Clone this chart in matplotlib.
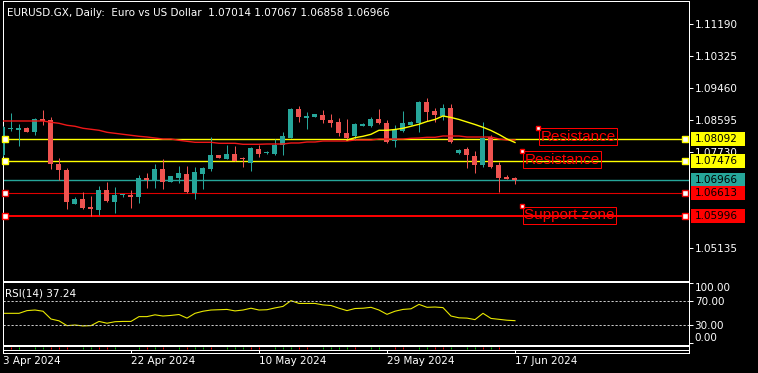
import numpy as np
import pandas as pd
import matplotlib
matplotlib.use("Agg")
import matplotlib.pyplot as plt
from matplotlib.patches import Rectangle

# EURUSD.GX diario, valores
opens = [1.07649, 1.08352, 1.08325, 1.08387, 1.08271, 1.08622, 1.08595, 1.07406, 1.07243, 1.06332,
         1.06460, 1.06243, 1.06162, 1.06703, 1.06378, 1.06554, 1.06568, 1.06514, 1.07027, 1.06973,
         1.07270, 1.06919, 1.07027, 1.07135, 1.06622, 1.07135, 1.07270, 1.07649, 1.07541, 1.07676,
         1.07568, 1.07433, 1.07811, 1.07703, 1.07676, 1.07919, 1.08108, 1.08892, 1.08657, 1.08676,
         1.08730, 1.08595, 1.08541, 1.08244, 1.08162, 1.08433, 1.08433, 1.08622, 1.08514, 1.08027,
         1.08298, 1.08460, 1.08514, 1.09082, 1.08838, 1.08703, 1.08919, 1.07703, 1.07811, 1.07622,
         1.07379, 1.08136, 1.07379, 1.07054, 1.07014]
highs = [1.08430, 1.08792, 1.08487, 1.08400, 1.08649, 1.08865, 1.08676, 1.07568, 1.07297, 1.06522,
         1.06649, 1.06541, 1.06811, 1.06919, 1.06784, 1.06603, 1.06703, 1.07108, 1.07162, 1.07406,
         1.07541, 1.07081, 1.07352, 1.07352, 1.07325, 1.07325, 1.08136, 1.07649, 1.07919, 1.07892,
         1.07595, 1.07865, 1.07919, 1.07757, 1.08081, 1.08271, 1.08919, 1.08973, 1.08811, 1.08770,
         1.08865, 1.08757, 1.08649, 1.08622, 1.08514, 1.08514, 1.08676, 1.08892, 1.08595, 1.08460,
         1.08838, 1.08568, 1.09109, 1.09190, 1.08919, 1.09027, 1.09027, 1.07811, 1.07865, 1.07757,
         1.08541, 1.08190, 1.07460, 1.07108, 1.07067]
lows = [1.07630, 1.08298, 1.07900, 1.08260, 1.08190, 1.08460, 1.07271, 1.06973, 1.06189, 1.06324,
        1.06189, 1.06000, 1.06027, 1.06378, 1.06081, 1.06514, 1.06216, 1.06351, 1.06757, 1.06757,
        1.06730, 1.06919, 1.06892, 1.06622, 1.06460, 1.06730, 1.07216, 1.07568, 1.07541, 1.07487,
        1.07325, 1.07216, 1.07595, 1.07684, 1.07649, 1.07649, 1.08108, 1.08541, 1.08352, 1.08676,
        1.08514, 1.08406, 1.08162, 1.08054, 1.08054, 1.08433, 1.08406, 1.08487, 1.07973, 1.07865,
        1.08271, 1.08460, 1.08271, 1.08568, 1.08541, 1.08595, 1.07973, 1.07676, 1.07297, 1.07162,
        1.07325, 1.07297, 1.06649, 1.07000, 1.06858]
closes = [1.08414, 1.08387, 1.08379, 1.08271, 1.08622, 1.08568, 1.07406, 1.07243, 1.06387, 1.06468,
          1.06216, 1.06189, 1.06703, 1.06405, 1.06568, 1.06562, 1.06514, 1.07027, 1.06973, 1.07270,
          1.06919, 1.07081, 1.07162, 1.06649, 1.07189, 1.07298, 1.07649, 1.07568, 1.07676, 1.07487,
          1.07541, 1.07838, 1.07676, 1.07730, 1.07919, 1.08162, 1.08892, 1.08676, 1.08711, 1.08757,
          1.08595, 1.08514, 1.08244, 1.08108, 1.08487, 1.08487, 1.08622, 1.08514, 1.08000, 1.08325,
          1.08514, 1.08541, 1.09082, 1.08811, 1.08730, 1.08919, 1.08000, 1.07784, 1.07649, 1.07379,
          1.08108, 1.07325, 1.07027, 1.07000, 1.06966]

# media lenta (roja) y rápida (amarilla, desde la vela 43)
ma_slow = [1.08568, 1.08568, 1.08568, 1.08568, 1.08568, 1.08568, 1.08533, 1.08506, 1.08452, 1.08425,
           1.08371, 1.08344, 1.08317, 1.08262, 1.08235, 1.08208, 1.08181, 1.08154, 1.08135, 1.08108,
           1.08081, 1.08081, 1.08046, 1.08019, 1.07992, 1.07992, 1.07992, 1.07965, 1.07965, 1.07965,
           1.07938, 1.07938, 1.07938, 1.07946, 1.07946, 1.07946, 1.07973, 1.07973, 1.08000, 1.08000,
           1.08027, 1.08027, 1.08027, 1.08027, 1.08054, 1.08054, 1.08054, 1.08081, 1.08081, 1.08081,
           1.08081, 1.08100, 1.08108, 1.08127, 1.08127, 1.08162, 1.08162, 1.08162, 1.08135, 1.08135,
           1.08135, 1.08135, 1.08081, 1.08054, 1.08054]
ma_fast_start = 43
ma_fast = [1.08054, 1.08117, 1.08154, 1.08208, 1.08317, 1.08317, 1.08338, 1.08371, 1.08425, 1.08479,
           1.08554, 1.08609, 1.08703, 1.08663, 1.08609, 1.08541, 1.08473, 1.08398, 1.08311, 1.08203,
           1.08081, 1.07987]

rsi = [49.5, 49.5, 49.5, 54, 55, 53, 40, 37, 29, 30,
       28.5, 29, 36, 33, 35.5, 36, 36, 44, 44, 47,
       45, 46, 47.5, 41.5, 49.5, 53, 55, 55.5, 56, 53.5,
       55, 58, 55, 55.5, 58.5, 61, 70.6, 66, 66, 66,
       63.5, 62.5, 58, 54, 57.5, 58, 59.5, 55, 47.8, 53,
       56, 57, 64.4, 59.5, 60, 59, 45, 42, 41.5, 39,
       49.5, 41, 39.5, 38, 37.24]

# marcas de la franja inferior
strip_idx = [1, 2, 4, 5, 6, 7, 8, 10, 11, 12, 13, 14, 17, 18, 19, 20, 22, 23, 24, 25, 26, 28, 29, 30,
             31, 32, 34, 35, 36, 37, 38, 40, 41, 42, 43, 44, 46, 47, 49, 50, 52, 53, 54, 55, 56, 58,
             59, 60, 61, 62]
strip_col = "rgggrrrggrrgg" + "rgrgrggrgggrr" + "gggrrggggrggrrggrrgggrg"

# niveles horizontales
levels = [1.08092, 1.07476, 1.06613, 1.05996]
level_colors = ["#ffff00", "#ffff00", "#e00000", "#ff0000"]
level_lw = [1.0, 1.0, 0.8, 1.4]
bid = 1.06966

notes = ["Resistance", "Resistance", "Support zone"]
note_x = [66.9, 64.9, 64.9]
note_y = [1.08379, 1.07757, 1.06257]

price_ticks = [1.05135, 1.07730, 1.08595, 1.09460, 1.10325, 1.11190]
date_ticks = [0, 16, 32, 48, 64]

dates = pd.bdate_range("2024-04-03", "2024-06-17", freq="C", weekmask="Sun Mon Tue Wed Thu Fri")

BULL = "#26a69a"
BEAR = "#ef5350"
PX = 0.72  # un pixel en puntos

plt.rcParams['font.family'] = ['DejaVu Sans']

W, H = 758, 373
fig = plt.figure(figsize=(W / 100, H / 100), dpi=100, facecolor="black")


def box(x0, y0, x1, y1):
    return [x0 / W, 1 - y1 / H, (x1 - x0) / W, (y1 - y0) / H]


ax = fig.add_axes(box(2.5, 0.5, 688.5, 280.5))
ax_rsi = fig.add_axes(box(2.5, 282, 688.5, 344.7))
ax_bar = fig.add_axes(box(2.5, 346, 688.5, 353))

xlim = (-0.0625, 85.69)
for a in (ax, ax_rsi, ax_bar):
    a.set_facecolor("black")
    a.set_xlim(*xlim)
    for s in a.spines.values():
        s.set_color("white")
        s.set_linewidth(PX)
    a.yaxis.tick_right()
    a.tick_params(axis="y", colors="white", length=2.9, width=PX, pad=1.5, labelsize=7.5)
    a.tick_params(axis="x", bottom=False, labelbottom=False)

# velas
o, h, l, c = map(np.array, (opens, highs, lows, closes))
x = np.arange(len(o))
col = np.where(c >= o, BULL, BEAR)
ax.vlines(x, l, h, colors=col, lw=PX, zorder=3)
ax.bar(x, np.maximum(np.abs(c - o), 0.0003), bottom=np.minimum(o, c), width=0.625,
       color=col, lw=0, zorder=3)

ax.plot(x, ma_slow, color="#f01818", lw=1.0, zorder=4)
ax.plot(x[ma_fast_start:], ma_fast, color="#ffff00", lw=1.0, zorder=4)

ax.axhline(bid, color=BULL, lw=1.0, zorder=2)
for p, cl, lw in zip(levels, level_colors, level_lw):
    ax.axhline(p, color=cl, lw=lw, zorder=2)
    ax.plot([0.25, 85.25], [p, p], "s", ms=4, mfc="white", mec=cl, mew=1.0, zorder=5, clip_on=False)

for t, nx, ny in zip(notes, note_x, note_y):
    ax.annotate(t, xy=(nx, ny), xytext=(1.5, -1.2), textcoords="offset points", ha="left", va="top",
                color="#ff0000", fontsize=11, family="Liberation Sans", zorder=5,
                bbox=dict(boxstyle="square,pad=0.1", fc="none", ec="#ff0000", lw=PX))
    ax.plot(nx, ny, "s", ms=3.5, mfc="white", mec="#ff0000", mew=1.0, zorder=6)

ax.set_ylim(1.04256, 1.11825)
ax.set_yticks(price_ticks)
ax.set_yticklabels([f"{p:.5f}" for p in price_ticks])

# etiquetas de precio a la derecha
trans = ax.get_yaxis_transform()
hh = 7 * 0.00027032
tags = [(levels[0], "#ffff00"), (levels[1], "#ffff00"), (bid, BULL), (levels[2], "#ff0000"), (levels[3], "#ff0000")]
for p, bg in tags:
    ax.add_patch(Rectangle((1.00364, p - hh), 54 / 686, 2 * hh, transform=trans, facecolor=bg,
                           lw=0, clip_on=False, zorder=6))
    ax.text(1.0095, p, f"{p:.5f}", transform=trans, va="center", ha="left", color="black",
            fontsize=7.5, zorder=7, clip_on=False)

fig.text(7 / W, 1 - 13 / H, "EURUSD.GX, Daily:  Euro vs US Dollar  1.07014 1.07067 1.06858 1.06966",
         color="white", fontsize=7.5, va="center")

# RSI
ax_rsi.plot(x, rsi, color="#e8e800", lw=0.8)
for lv in (70, 30):
    ax_rsi.axhline(lv, color="#c8c8c8", lw=PX, dashes=(2.2, 1.8))
ax_rsi.set_ylim(-2.8, 101.7)
ax_rsi.set_yticks([0, 30, 70, 100])
ax_rsi.set_yticklabels(["0.00", "30.00", "70.00", "100.00"])
rl = ax_rsi.get_yticklabels()
rl[0].set_va("bottom")
rl[-1].set_va("top")
ax_rsi.text(0.25, 83.3, "RSI(14) 37.24", color="white", fontsize=7.5, va="center")

# franja inferior y fechas
ax_bar.set_ylim(0, 7)
ax_bar.axhline(3.3, color="white", lw=PX)
ax_bar.vlines(strip_idx, 4, 6, colors=["#ff0000" if s == "r" else "#00c000" for s in strip_col], lw=PX)
ax_bar.set_yticks([])
ax_bar.set_xticks(date_ticks)
ax_bar.set_xticklabels([f"{dates[i].day} {dates[i]:%b %Y}" for i in date_ticks], ha="left")
ax_bar.tick_params(axis="x", bottom=True, labelbottom=True, direction="in", length=2.4, width=PX,
                   colors="white", pad=2.0, labelsize=7.5)

fig.savefig("out.png", dpi=100, facecolor="black")
